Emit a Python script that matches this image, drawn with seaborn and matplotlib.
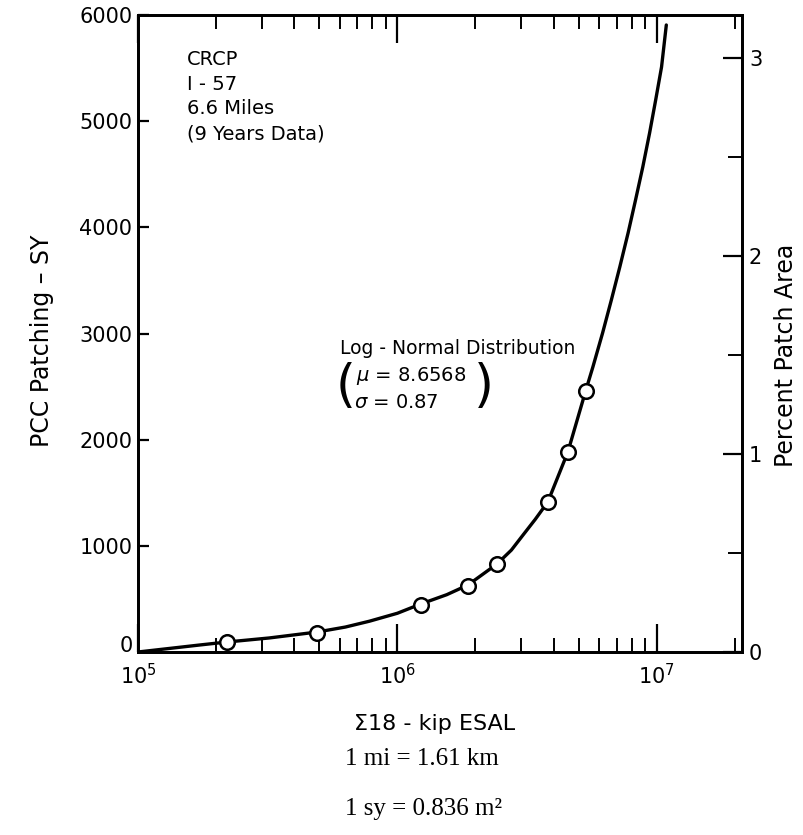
import numpy as np
import pandas as pd
import matplotlib
matplotlib.use("Agg")
import matplotlib.pyplot as plt
import matplotlib.transforms as mtransforms
import seaborn as sns
from matplotlib.ticker import FixedLocator, NullFormatter, FixedFormatter

# ==========================================
# Data
# ==========================================
# fitted curve (cumulative ESAL vs. PCC patching, SY)
curve_esal = [1.0e5, 1.73e5, 2.2e5, 3.2e5, 4.9e5, 6.3e5, 7.8e5, 1.0e6, 1.23e6,
              1.55e6, 1.87e6, 2.42e6, 2.75e6, 3.05e6, 3.4e6, 3.8e6, 4.54e6,
              5.33e6, 5.67e6, 6.18e6, 6.68e6, 7.20e6, 7.75e6, 8.28e6, 8.83e6,
              9.38e6, 9.90e6, 1.043e7, 1.088e7]
curve_sy = [0, 66, 94, 132, 188, 235, 290, 365, 452,
            540, 631, 829, 960, 1102, 1250, 1413, 1884,
            2468, 2685, 3005, 3316, 3627, 3947, 4258, 4569,
            4889, 5200, 5511, 5906]

# observed points (open circles)
obs_esal = [2.2e5, 4.9e5, 1.23e6, 1.87e6, 2.42e6, 3.8e6, 4.54e6, 5.32e6]
obs_sy = [90, 180, 445, 625, 830, 1415, 1880, 2460]

# axes
x_lim = [1e5, 2.13e7]
y_lim = [0, 6000]
y_ticks = [0, 1000, 2000, 3000, 4000, 5000, 6000]
x_major = [1e5, 1e6, 1e7]
x_major_labels = ["$10^5$", "$10^6$", "$10^7$"]
SY_PER_PCT = 1865  # 1 percent patch area in SY (right axis)
pct_major = [0, 1, 2, 3]
pct_minor = [0.5, 1.5, 2.5]

info_lines = ["CRCP", "I - 57", "6.6 Miles", "(9 Years Data)"]

curve_df = pd.DataFrame({"esal": curve_esal, "sy": curve_sy})
obs_df = pd.DataFrame({"esal": obs_esal, "sy": obs_sy})

# ==========================================
# Figure
# ==========================================
sns.set_style("ticks")
plt.rcParams['font.family'] = ['DejaVu Sans']
plt.rcParams['mathtext.fontset'] = 'dejavusans'
for k in ['text.color', 'axes.labelcolor', 'xtick.color', 'ytick.color', 'axes.edgecolor']:
    plt.rcParams[k] = 'black'

W, H = 804, 835
fig = plt.figure(figsize=(W / 100, H / 100), dpi=100)
L, R, T, B = 138, 742, 15, 652
ax = fig.add_axes([L / W, 1 - B / H, (R - L) / W, (B - T) / H])

sns.lineplot(data=curve_df, x="esal", y="sy", ax=ax, color="black",
             linewidth=2.4, sort=False, estimator=None)
sns.scatterplot(data=obs_df, x="esal", y="sy", ax=ax, s=110, marker="o",
                facecolor="white", edgecolor="black", linewidth=1.8, zorder=3)

ax.set_xscale("log")
ax.set_xlim(x_lim)
ax.set_ylim(y_lim)
ax.set_xlabel("")
ax.set_ylabel("")

# log ticks: majors labelled, minors 2..9 per decade
minor = [m * 10 ** d for d in range(5, 8) for m in range(2, 10) if m * 10 ** d < x_lim[1]]
ax.xaxis.set_major_locator(FixedLocator(x_major))
ax.xaxis.set_major_formatter(FixedFormatter(x_major_labels))
ax.xaxis.set_minor_locator(FixedLocator(minor))
ax.xaxis.set_minor_formatter(NullFormatter())
ax.tick_params(axis="x", which="major", direction="in", top=True, length=20,
               width=1.6, labelsize=15, pad=8)
ax.tick_params(axis="x", which="minor", direction="in", top=True, length=10,
               width=1.4)

ax.set_yticks(y_ticks)
ax.set_yticklabels([str(v) for v in y_ticks])
ax.tick_params(axis="y", which="major", direction="in", length=8, width=1.6,
               labelsize=15, pad=4)
# lift the "0" a little so it clears the 10^5 label
zero_lbl = ax.get_yticklabels()[0]
zero_lbl.set_transform(zero_lbl.get_transform() +
                       mtransforms.ScaledTranslation(0, 6 / 72, fig.dpi_scale_trans))

for sp in ax.spines.values():
    sp.set_linewidth(2)
    sp.set_color("black")

# right axis: percent patch area
ax2 = ax.twinx()
ax2.set_ylim(y_lim[0] / SY_PER_PCT, y_lim[1] / SY_PER_PCT)
ax2.yaxis.set_major_locator(FixedLocator(pct_major))
ax2.yaxis.set_minor_locator(FixedLocator(pct_minor))
ax2.yaxis.set_minor_formatter(NullFormatter())
ax2.tick_params(axis="y", which="major", direction="in", length=14, width=1.6,
                labelsize=15, pad=5)
ax2.tick_params(axis="y", which="minor", direction="in", length=10, width=1.4)
for sp in ax2.spines.values():
    sp.set_linewidth(2)

# ==========================================
# Annotations
# ==========================================
def fx(px):
    return (px - L) / (R - L)

def fy(py):
    return (B - py) / (B - T)

ax.text(fx(187), fy(50), "\n".join(info_lines), transform=ax.transAxes,
        ha="left", va="top", fontsize=14, linespacing=1.38)

ax.text(fx(340), fy(348), "Log - Normal Distribution", transform=ax.transAxes,
        ha="left", va="center", fontsize=13.5)
ax.text(fx(356), fy(376), r"$\mu$ = 8.6568", transform=ax.transAxes,
        ha="left", va="center", fontsize=14)
ax.text(fx(354), fy(403), r"$\sigma$ = 0.87", transform=ax.transAxes,
        ha="left", va="center", fontsize=14)
ax.text(fx(346), fy(387), "(", transform=ax.transAxes, ha="center",
        va="center", fontsize=37)
ax.text(fx(484), fy(387), ")", transform=ax.transAxes, ha="center",
        va="center", fontsize=37)

fig.text(42 / W, 1 - 341 / H, "PCC Patching – SY", rotation=90,
         ha="center", va="center", fontsize=17)
fig.text(786 / W, 1 - 355 / H, "Percent Patch Area", rotation=90,
         ha="center", va="center", fontsize=17)
fig.text(435 / W, 1 - 724 / H, "Σ18 - kip ESAL", ha="center", va="center",
         fontsize=16)
fig.text(422 / W, 1 - 759 / H, "1 mi = 1.61 km", ha="center", va="center",
         fontsize=18, family=["Liberation Serif", "DejaVu Serif"])
fig.text(424 / W, 1 - 809 / H, "1 sy = 0.836 m²", ha="center",
         va="center", fontsize=18, family=["Liberation Serif", "DejaVu Serif"])

fig.savefig("out.png", dpi=100)
